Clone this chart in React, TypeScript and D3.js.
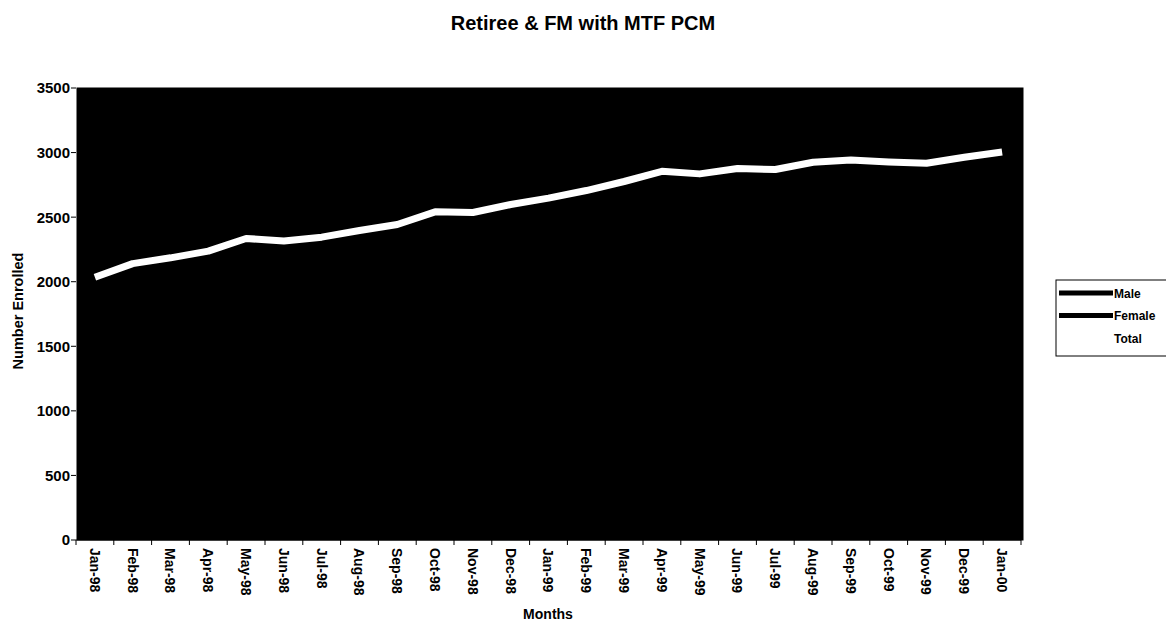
import React from "react";
import * as d3 from "d3";

const months = [
  "Jan-98","Feb-98","Mar-98","Apr-98","May-98","Jun-98","Jul-98","Aug-98","Sep-98","Oct-98","Nov-98","Dec-98",
  "Jan-99","Feb-99","Mar-99","Apr-99","May-99","Jun-99","Jul-99","Aug-99","Sep-99","Oct-99","Nov-99","Dec-99","Jan-00",
];
const total = [2035, 2140, 2185, 2237, 2335, 2315, 2345, 2397, 2443, 2541, 2536, 2598, 2647, 2706, 2776, 2855, 2835, 2876, 2869, 2925, 2943, 2927, 2917, 2964, 3005];
const male = [1160, 1190, 1205, 1230, 1270, 1260, 1270, 1295, 1310, 1370, 1370, 1400, 1420, 1440, 1470, 1500, 1490, 1510, 1510, 1540, 1550, 1540, 1540, 1560, 1590];
const female = [875, 950, 980, 1007, 1065, 1055, 1075, 1102, 1133, 1171, 1166, 1198, 1227, 1266, 1306, 1355, 1345, 1366, 1359, 1385, 1393, 1387, 1377, 1404, 1415];
const yTicks = [0, 500, 1000, 1500, 2000, 2500, 3000, 3500];
const seriesNames = ["Male", "Female", "Total"];

const FONT = "'Liberation Sans', Arial, sans-serif";

export default function App() {
  const W = 1166, H = 623;
  const left = 76, right = 1021, top = 88, bottom = 540;
  const x = d3.scaleBand<string>().domain(months).range([left, right]);
  const y = d3.scaleLinear().domain([0, 3500]).range([bottom, top]);
  const cx = (i: number) => (x(months[i]) as number) + x.bandwidth() / 2;
  const line = d3.line<number>().x((_, i) => cx(i)).y((v) => y(v));

  const series = [
    { name: seriesNames[0], data: male, color: "#000", width: 6 },
    { name: seriesNames[1], data: female, color: "#000", width: 6 },
    { name: seriesNames[2], data: total, color: "#fff", width: 7 },
  ];

  return (
    <svg width={W} height={H} style={{ position: "absolute", left: 0, top: 0, background: "#fff" }} fontFamily={FONT}>
      <rect x={0} y={0} width={W} height={H} fill="#fff" />
      <text x={583} y={30} textAnchor="middle" fontSize={20} fontWeight="bold">Retiree &amp; FM with MTF PCM</text>

      <rect x={left + 1} y={top} width={right - left + 1} height={bottom - top} fill="#000" stroke="#000" />

      {yTicks.map((t) => (
        <g key={t}>
          <line x1={left - 5} x2={left} y1={y(t)} y2={y(t)} stroke="#000" />
          <text x={left - 6} y={y(t)} dy="0.36em" textAnchor="end" fontSize={15} fontWeight="bold">{t}</text>
        </g>
      ))}
      <text transform={`translate(23,311) rotate(-90)`} textAnchor="middle" fontSize={14.5} fontWeight="bold">Number Enrolled</text>

      <line x1={left} x2={right} y1={bottom} y2={bottom} stroke="#000" />
      {months.map((m, i) => (
        <line key={"t" + i} x1={(x(m) as number)} x2={(x(m) as number)} y1={bottom} y2={bottom + 5} stroke="#000" />
      ))}
      <line x1={right} x2={right} y1={bottom} y2={bottom + 5} stroke="#000" />
      {months.map((m, i) => (
        <text key={m} transform={`translate(${cx(i)},${bottom + 8}) rotate(90)`} dy="0.36em" textAnchor="start" fontSize={14} fontWeight="bold">{m}</text>
      ))}
      <text x={548} y={619} textAnchor="middle" fontSize={14} fontWeight="bold">Months</text>

      {series.map((s) => (
        <path key={s.name} d={line(s.data) as string} fill="none" stroke={s.color} strokeWidth={s.width} strokeLinejoin="round" />
      ))}

      <rect x={1056} y={280} width={115} height={76} fill="#fff" stroke="#000" strokeWidth={1} />
      {series.map((s, i) => (
        <g key={"lg" + s.name}>
          <line x1={1059} x2={1113} y1={293 + i * 22.5} y2={293 + i * 22.5} stroke={s.color} strokeWidth={5} />
          <text x={1114} y={293 + i * 22.5} dy="0.4em" fontSize={12} fontWeight="bold">{s.name}</text>
        </g>
      ))}
    </svg>
  );
}
